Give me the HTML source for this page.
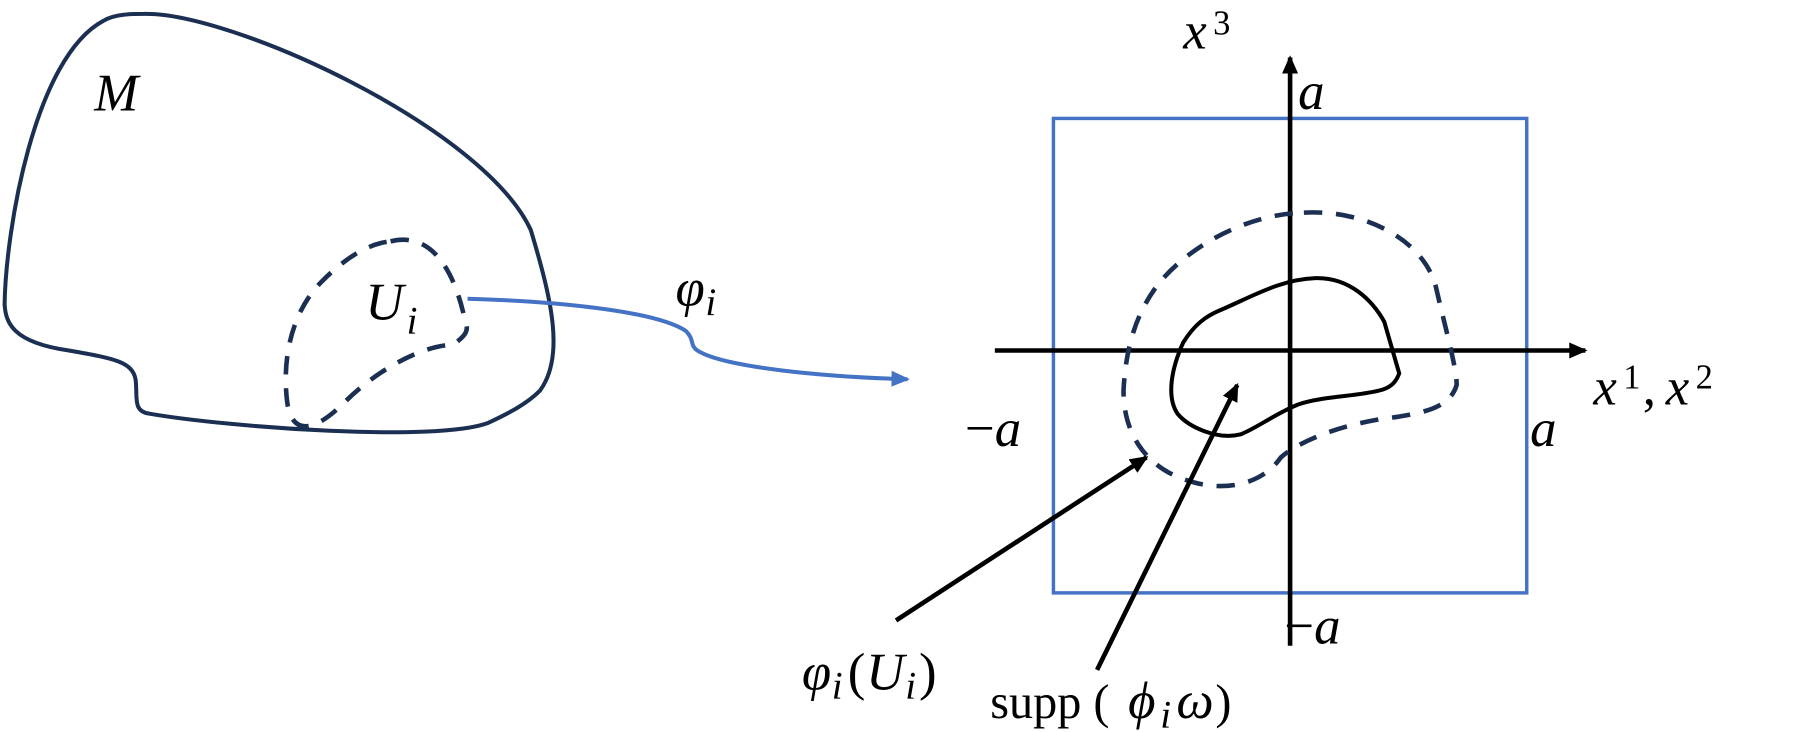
<!DOCTYPE html>
<html><head><meta charset="utf-8"><style>
html,body{margin:0;padding:0;background:#fff;width:1799px;height:732px;overflow:hidden}
svg text{font-family:"Liberation Serif",serif;fill:#000}
svg .it{font-style:italic}
svg .up{font-style:normal}
</style></head><body>
<svg width="1799" height="732" viewBox="0 0 1566 637" xmlns="http://www.w3.org/2000/svg">
<defs>
<marker id="ab2" markerWidth="16" markerHeight="14" refX="14" refY="7" orient="auto" markerUnits="userSpaceOnUse"><path d="M0,0 L16,7 L0,14 Z" fill="#000"/></marker>
<marker id="bb" markerWidth="16" markerHeight="14" refX="14" refY="7" orient="auto" markerUnits="userSpaceOnUse"><path d="M0,0 L16,7 L0,14 Z" fill="#4472C4"/></marker>
</defs>
<path d="M125,12 C200,10 420,110 462,200 C480,260 492,310 470,340 C458,352 442,360 425,368 C380,385 200,372 130,360 C115,358 120,345 118,330 C115,315 100,312 60,305 C10,298 5,280 4,265 C5,200 30,50 90,18 C100,12 115,12 125,12 Z" fill="none" stroke="#1b2f52" stroke-width="3.5"/>
<path d="M340,210 C380,200 398,245 405,280 C410,290 400,295 395,300 C370,300 330,320 300,350 C280,370 255,385 250,350 C245,310 255,270 280,245 C300,225 320,212 340,210 Z" fill="none" stroke="#1b2f52" stroke-width="4" stroke-dasharray="16,12"/>
<path d="M407,260 C480,262 570,270 597,288 C605,296 600,300 607,305 C630,320 720,328 790,330" fill="none" stroke="#4472C4" stroke-width="3.5" marker-end="url(#bb)"/>
<text class="it" x="82" y="96" font-size="46">M</text>
<text class="it" x="318" y="278" font-size="46">U</text><text class="it" x="354" y="290" font-size="34">i</text>
<text class="it" x="588" y="266" font-size="46">φ</text><text class="it" x="614" y="274" font-size="34">i</text>
<rect x="917" y="103" width="412" height="413" fill="none" stroke="#4472C4" stroke-width="3"/>
<line x1="866" y1="305" x2="1380" y2="305" stroke="#000" stroke-width="4" marker-end="url(#ab2)"/>
<line x1="1123" y1="562" x2="1123" y2="50" stroke="#000" stroke-width="4" marker-end="url(#ab2)"/>
<path d="M1135,185 C1190,182 1240,210 1250,250 C1258,285 1268,320 1268,335 C1262,355 1240,360 1200,365 C1160,372 1130,385 1115,398 C1100,420 1070,428 1040,420 C1000,410 978,380 978,340 C980,300 990,270 1010,245 C1040,210 1090,186 1135,185 Z" fill="none" stroke="#1b2f52" stroke-width="4" stroke-dasharray="16,12"/>
<path d="M1062,270 C1090,258 1115,243 1145,242 C1175,241 1195,262 1205,280 L1218,325 C1215,333 1210,338 1200,340 C1180,345 1150,345 1130,352 C1110,360 1095,372 1080,378 C1060,383 1035,372 1025,360 C1015,345 1020,320 1030,298 C1040,282 1050,275 1062,270 Z" fill="none" stroke="#000" stroke-width="3.5"/>
<line x1="780" y1="540" x2="998" y2="398" stroke="#000" stroke-width="4" marker-end="url(#ab2)"/>
<line x1="955" y1="583" x2="1077" y2="335" stroke="#000" stroke-width="4" marker-end="url(#ab2)"/>
<text class="it" x="1030" y="42" font-size="46">x</text><text class="up" x="1056" y="30" font-size="30">3</text>
<text class="it" x="1130" y="95" font-size="46">a</text>
<text x="840" y="388" font-size="46"><tspan class="up">−</tspan><tspan class="it">a</tspan></text>
<text class="it" x="1332" y="388" font-size="46">a</text>
<text class="it" x="1387" y="352" font-size="46">x</text><text class="up" x="1413" y="338" font-size="30">1</text><text class="up" x="1430" y="352" font-size="46">,</text><text class="it" x="1450" y="352" font-size="46">x</text><text class="up" x="1476" y="338" font-size="30">2</text>
<text x="1118" y="560" font-size="46"><tspan class="up">−</tspan><tspan class="it">a</tspan></text>
<text class="it" x="698" y="600" font-size="46">φ</text><text class="it" x="724" y="608" font-size="34">i</text><text class="up" x="738" y="600" font-size="46">(</text><text class="it" x="754" y="600" font-size="46">U</text><text class="it" x="788" y="608" font-size="34">i</text><text class="up" x="800" y="600" font-size="46">)</text>
<text class="up" x="862" y="625" font-size="42">supp (</text><text class="it" x="982" y="625" font-size="46">ϕ</text><text class="it" x="1010" y="633" font-size="34">i</text><text class="it" x="1024" y="625" font-size="46">ω</text><text class="up" x="1058" y="625" font-size="42">)</text>
</svg>
</body></html>
